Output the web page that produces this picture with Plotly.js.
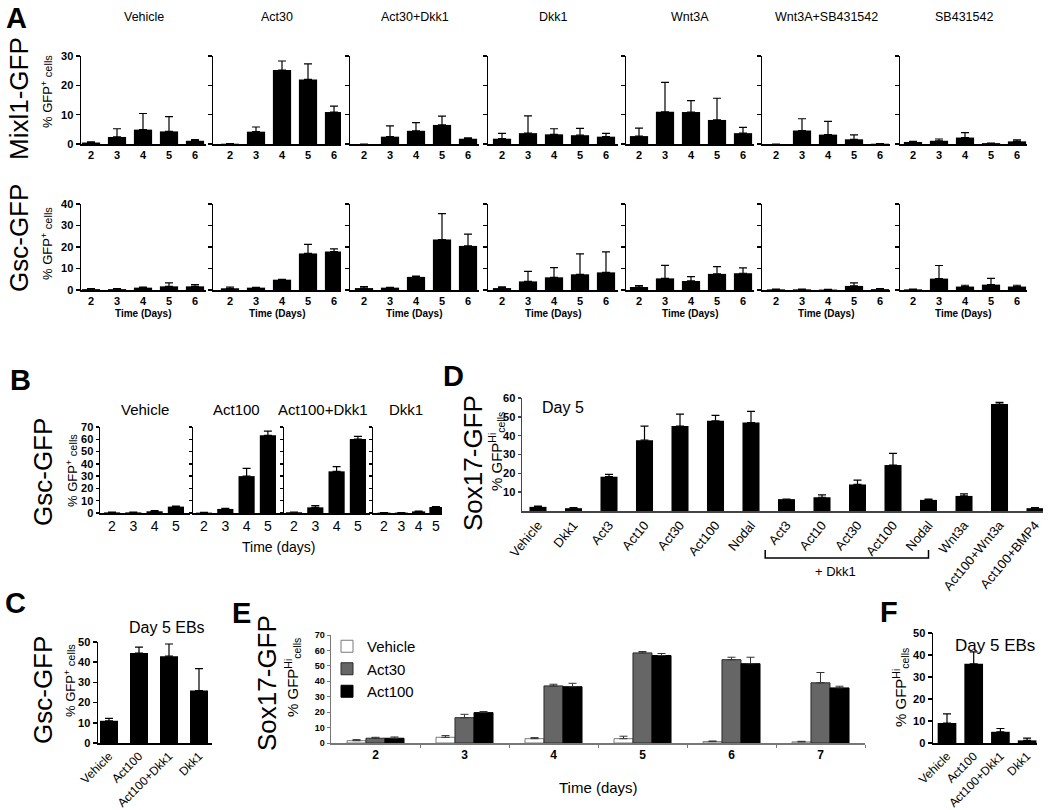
<!DOCTYPE html>
<html><head><meta charset="utf-8">
<script src="https://cdn.plot.ly/plotly-3.0.1.min.js"></script>
<style>html,body{margin:0;padding:0;background:#fff}#chart{width:1050px;height:810px}</style>
</head><body><div id="chart"></div>
<script>
// ---------------- DATA ----------------
const daysA = [2, 3, 4, 5, 6];
const treatmentsA = ['Vehicle', 'Act30', 'Act30+Dkk1', 'Dkk1', 'Wnt3A', 'Wnt3A+SB431542', 'SB431542'];
const mixl1Mean = [
  [0.5, 2.4, 4.9, 4.3, 1.1],
  [0.1, 4.2, 25.2, 22.0, 10.9],
  [0.0, 2.5, 4.5, 6.5, 1.8],
  [1.8, 3.7, 3.3, 3.0, 2.5],
  [2.7, 11.0, 10.9, 8.2, 3.7],
  [0.0, 4.6, 3.2, 1.6, 0.1],
  [0.7, 1.1, 2.2, 0.3, 0.9]
];
const mixl1Err = [
  [0.2, 2.8, 5.5, 5.0, 0.4],
  [0.05, 1.6, 3.1, 5.3, 2.0],
  [0.0, 3.7, 2.8, 3.0, 0.3],
  [1.8, 5.9, 1.9, 2.3, 1.1],
  [2.7, 10.0, 3.9, 7.4, 2.0],
  [0.0, 4.0, 4.5, 1.5, 0.0],
  [0.2, 0.6, 1.7, 0.0, 0.5]
];
const gscAMean = [
  [0.4, 0.4, 1.1, 1.7, 1.7],
  [0.8, 1.1, 4.8, 17.0, 17.9],
  [0.9, 1.1, 6.1, 23.5, 20.5],
  [0.9, 4.0, 5.9, 7.3, 8.2],
  [1.4, 5.4, 4.2, 7.5, 7.8],
  [0.3, 0.3, 0.2, 1.9, 0.4],
  [0.3, 5.3, 1.6, 2.5, 1.6]
];
const gscAErr = [
  [0.2, 0.2, 0.3, 1.6, 0.8],
  [0.6, 0.1, 0.2, 4.2, 1.2],
  [0.7, 0.1, 0.4, 12.0, 5.5],
  [0.6, 4.7, 4.5, 9.5, 9.5],
  [0.6, 6.1, 2.0, 3.4, 2.5],
  [0.1, 0.1, 0.1, 1.4, 0.2],
  [0.1, 6.1, 0.6, 2.9, 0.6]
];
const ticksA1 = [0, 10, 20, 30];
const ticksA2 = [0, 10, 20, 30, 40];

const daysB = [2, 3, 4, 5];
const treatmentsB = ['Vehicle', 'Act100', 'Act100+Dkk1', 'Dkk1'];
const gscBMean = [
  [0.5, 0.5, 1.4, 5.2],
  [0.3, 3.3, 30.0, 63.2],
  [0.6, 4.6, 33.9, 60.2],
  [0.3, 0.3, 1.3, 4.9]
];
const gscBErr = [
  [0.2, 0.2, 0.5, 0.5],
  [0.2, 0.5, 6.4, 3.5],
  [0.2, 1.4, 3.8, 2.1],
  [0.1, 0.1, 0.3, 0.4]
];
const ticksB = [0, 10, 20, 30, 40, 50, 60, 70];

const treatmentsC = ['Vehicle', 'Act100', 'Act100+Dkk1', 'Dkk1'];
const gscCMean = [11.0, 44.5, 43.0, 26.0];
const gscCErr = [1.2, 3.0, 6.0, 10.8];
const ticksC = [0, 10, 20, 30, 40, 50];

const treatmentsD = ['Vehicle', 'Dkk1', 'Act3', 'Act10', 'Act30', 'Act100', 'Nodal',
  'Act3', 'Act10', 'Act30', 'Act100', 'Nodal', 'Wnt3a', 'Act100+Wnt3a', 'Act100+BMP4'];
const sox17DMean = [2.2, 1.5, 18.2, 37.6, 45.1, 47.9, 47.0, 6.3, 7.3, 14.1, 24.4, 5.9, 8.0, 56.8, 1.5];
const sox17DErr = [0.4, 0.3, 1.2, 7.5, 6.3, 2.9, 5.9, 0.0, 1.3, 2.3, 6.2, 0.4, 1.1, 0.9, 0.3];
const ticksD = [10, 20, 30, 40, 50, 60];

const daysE = [2, 3, 4, 5, 6, 7];
const seriesE = ['Vehicle', 'Act30', 'Act100'];
const sox17EVehicle = [1.5, 3.7, 2.8, 2.8, 0.9, 0.7];
const sox17EVehicleErr = [0.7, 1.1, 0.7, 1.6, 0.4, 0.4];
const sox17EAct30 = [3.1, 16.4, 37.0, 58.4, 54.0, 39.0];
const sox17EAct30Err = [0.6, 2.2, 1.1, 0.9, 1.6, 6.7];
const sox17EAct100 = [3.1, 19.7, 36.5, 56.7, 51.4, 35.7];
const sox17EAct100Err = [0.8, 0.7, 2.2, 1.3, 4.2, 1.1];
const ticksE = [0, 10, 20, 30, 40, 50, 60, 70];

const treatmentsF = ['Vehicle', 'Act100', 'Act100+Dkk1', 'Dkk1'];
const sox17FMean = [9.1, 36.0, 5.1, 1.2];
const sox17FErr = [4.1, 5.4, 1.5, 1.0];
const ticksF = [0, 10, 20, 30, 40, 50];

// ---------------- LAYOUT HELPERS ----------------
const W = 1050, H = 810;
const FONT = '"Liberation Sans", Arial, Helvetica, sans-serif';
const layout = {
  width: W, height: H,
  margin: {l: 0, r: 0, t: 0, b: 0, pad: 0},
  paper_bgcolor: '#fff', plot_bgcolor: 'rgba(0,0,0,0)',
  font: {family: FONT, color: '#000', size: 12},
  barmode: 'overlay', showlegend: true,
  annotations: [], shapes: [],
  legend: {x: 327 / W, y: 1 - 630 / H, xanchor: 'left', yanchor: 'top',
    font: {family: FONT, size: 15, color: '#000'}, bgcolor: 'rgba(0,0,0,0)', traceorder: 'normal'}
};
const data = [];
let n = 0;
function panel(b, xa, ya) {
  n++;
  const s = n === 1 ? '' : String(n);
  layout['xaxis' + s] = Object.assign({domain: [b.x0 / W, b.x1 / W], anchor: 'y' + s, showgrid: false, zeroline: false,
    showline: true, linecolor: '#000', linewidth: 1.5, ticks: '', fixedrange: true, automargin: false}, xa);
  layout['yaxis' + s] = Object.assign({domain: [1 - b.yb / H, 1 - b.yt / H], anchor: 'x' + s, showgrid: false, zeroline: false,
    showline: true, linecolor: '#000', linewidth: 1.5, ticks: 'outside', ticklen: 4, tickwidth: 1.5, tickcolor: '#000',
    fixedrange: true, automargin: false}, ya);
  return {x: 'x' + s, y: 'y' + s};
}
function pxRange(left, right, c0, step, first) {
  return [first - (c0 - left) / step, first + (right - c0) / step];
}
function eb(arr, opt) {
  return Object.assign({type: 'data', array: arr, arrayminus: arr.map(() => 0), symmetric: false,
    color: '#000', thickness: 1.2, width: 4, visible: true}, opt || {});
}
function ann(text, x, y, opt) {
  layout.annotations.push(Object.assign({text: text, x: x / W, y: 1 - y / H, xref: 'paper', yref: 'paper',
    showarrow: false, xanchor: 'center', yanchor: 'middle', font: {family: FONT, size: 14, color: '#000'}}, opt || {}));
}
const bold = (size) => ({family: FONT, size: size, color: '#000', weight: 'bold'});
const reg = (size) => ({family: FONT, size: size, color: '#000'});
const LETTER = {family: FONT, size: 29, color: '#000', weight: 'bold'};
const BIG = reg(26);
const GFPPLUS = '% GFP<sup>+</sup> <span style="font-size:11px">cells</span>';
const GFPHI = '% GFP<sup>Hi</sup><sub>cells</sub>';

// ---------------- PANEL A ----------------
ann('A', 16, 18, {font: LETTER});
const aBoxes = [[81, 91, 206], [213, 230, 341], [350, 364, 479], [488, 502, 618], [626, 639, 754], [762, 776, 890], [900, 913, 1027]];
const aRows = [
  {mean: mixl1Mean, err: mixl1Err, yt: 56, yb: 144, ticks: ticksA1, showX: false},
  {mean: gscAMean, err: gscAErr, yt: 204, yb: 290, ticks: ticksA2, showX: true}
];
aRows.forEach((row, r) => {
  aBoxes.forEach((bx, i) => {
    const ax = panel({x0: bx[0], x1: bx[2], yt: row.yt, yb: row.yb},
      {range: pxRange(bx[0], bx[2], bx[1], 26, daysA[0]), tickvals: daysA, tickfont: bold(11)},
      {range: [0, row.ticks[row.ticks.length - 1]], tickvals: row.ticks, showticklabels: i === 0, tickfont: bold(11)});
    data.push({type: 'bar', x: daysA, y: row.mean[i], xaxis: ax.x, yaxis: ax.y, width: 0.7,
      marker: {color: '#000', line: {width: 0}}, error_y: eb(row.err[i]), showlegend: false, hoverinfo: 'skip'});
    if (r === 0) ann(treatmentsA[i], (bx[0] + bx[2]) / 2, 17, {font: reg(12.5)});
    if (row.showX) ann('Time (Days)', (bx[0] + bx[2]) / 2, 313, {font: bold(10)});
  });
});
ann('Mixl1-GFP', 19, 99, {textangle: -90, font: BIG});
ann('Gsc-GFP', 19, 238, {textangle: -90, font: BIG});
ann(GFPPLUS, 47, 92, {textangle: -90, font: reg(13)});
ann(GFPPLUS, 47, 244, {textangle: -90, font: reg(13)});

// ---------------- PANEL B ----------------
ann('B', 20, 380, {font: LETTER});
const bBoxes = [[100, 112, 190, 21.3], [193, 204, 283, 21.3], [284, 294, 370, 21.3], [373, 384, 442, 17.3]];
const bTitleX = [145, 237, 323, 406];
bBoxes.forEach((bx, i) => {
  const ax = panel({x0: bx[0], x1: bx[2], yt: 427, yb: 513},
    {range: pxRange(bx[0], bx[2], bx[1], bx[3], daysB[0]), tickvals: daysB, tickfont: reg(14)},
    {range: [0, 70], tickvals: ticksB, showticklabels: i === 0, tickfont: bold(11), ticklen: 3});
  data.push({type: 'bar', x: daysB, y: gscBMean[i], xaxis: ax.x, yaxis: ax.y, width: 0.76,
    marker: {color: '#000', line: {width: 0}}, error_y: eb(gscBErr[i]), showlegend: false, hoverinfo: 'skip'});
  ann(treatmentsB[i], bTitleX[i], 409, {font: reg(15)});
});
ann('Time (days)', 278, 547, {font: reg(14)});
ann('Gsc-GFP', 43, 472, {textangle: -90, font: BIG});
ann(GFPPLUS, 72, 471, {textangle: -90, font: reg(13)});

// ---------------- PANEL C ----------------
ann('C', 15, 603, {font: LETTER});
const idxC = treatmentsC.map((_, i) => i);
{
  const ax = panel({x0: 98, x1: 212, yt: 642, yb: 743},
    {range: pxRange(98, 212, 109, 30, 0), tickvals: idxC, ticktext: treatmentsC, tickangle: -45, tickfont: reg(12)},
    {range: [0, 50], tickvals: ticksC, tickfont: bold(11)});
  data.push({type: 'bar', x: idxC, y: gscCMean, xaxis: ax.x, yaxis: ax.y, width: 0.6,
    marker: {color: '#000', line: {width: 0}}, error_y: eb(gscCErr), showlegend: false, hoverinfo: 'skip'});
}
ann('Day 5 EBs', 167, 627, {font: reg(16)});
ann('Gsc-GFP', 43, 690, {textangle: -90, font: BIG});
ann(GFPPLUS, 70, 681, {textangle: -90, font: reg(13)});

// ---------------- PANEL D ----------------
ann('D', 453, 376, {font: LETTER});
const idxD = treatmentsD.map((_, i) => i);
let axD;
{
  axD = panel({x0: 522, x1: 1043, yt: 398, yb: 511},
    {range: pxRange(522, 1043, 538, 35.5, 0), tickvals: idxD, ticktext: treatmentsD, tickangle: -50,
      tickfont: reg(13), linecolor: '#444'},
    {range: [0, 60], tickvals: ticksD, tickfont: bold(11), linecolor: '#444', tickcolor: '#444', ticklen: 3});
  data.push({type: 'bar', x: idxD, y: sox17DMean, xaxis: axD.x, yaxis: axD.y, width: 0.48,
    marker: {color: '#000', line: {width: 0}}, error_y: eb(sox17DErr), showlegend: false, hoverinfo: 'skip'});
}
layout.shapes.push({type: 'path', xref: axD.x, yref: 'paper',
  path: `M 6.4 ${1 - 550 / H} L 6.4 ${1 - 558 / H} L 11 ${1 - 558 / H} L 11 ${1 - 550 / H}`,
  line: {color: '#000', width: 1.5}});
ann('+ Dkk1', 835, 571, {font: reg(13)});
ann('Day 5', 563, 407, {font: reg(16)});
ann('Sox17-GFP', 473, 463, {textangle: -90, font: BIG});
ann(GFPHI, 496, 452, {textangle: -90, font: reg(15)});

// ---------------- PANEL E ----------------
ann('E', 241, 613, {font: LETTER});
{
  const ax = panel({x0: 331, x1: 865, yt: 635, yb: 743},
    {range: [daysE[0] - 0.5, daysE[daysE.length - 1] + 0.5], tickvals: daysE, tickfont: bold(12), linecolor: '#777',
      minor: {tickvals: daysE.map(d => d + 0.5), ticks: 'outside', ticklen: 3, tickcolor: '#777', tickwidth: 1}},
    {range: [0, 70], tickvals: ticksE, tickfont: bold(9), linecolor: '#777', tickcolor: '#777', ticklen: 3, tickwidth: 1});
  const eSeries = [
    {name: seriesE[0], y: sox17EVehicle, e: sox17EVehicleErr, fill: '#ffffff', line: '#7a7a7a', off: -0.32},
    {name: seriesE[1], y: sox17EAct30, e: sox17EAct30Err, fill: '#666666', line: '#2a2a2a', off: -0.107},
    {name: seriesE[2], y: sox17EAct100, e: sox17EAct100Err, fill: '#000000', line: '#000000', off: 0.107}
  ];
  eSeries.forEach(s => {
    data.push({type: 'bar', name: s.name, x: daysE, y: s.y, xaxis: ax.x, yaxis: ax.y, width: 0.2135, offset: s.off,
      marker: {color: s.fill, line: {color: s.line, width: 1}}, error_y: eb(s.e, {color: '#333', thickness: 1, width: 4}),
      showlegend: true, hoverinfo: 'skip'});
  });
}
ann('Time (days)', 598, 787, {font: reg(15)});
ann('Sox17-GFP', 267, 683, {textangle: -90, font: BIG});
ann(GFPHI, 292, 678, {textangle: -90, font: reg(15)});

// ---------------- PANEL F ----------------
ann('F', 889, 612, {font: LETTER});
const idxF = treatmentsF.map((_, i) => i);
{
  const ax = panel({x0: 933, x1: 1037, yt: 633, yb: 743},
    {range: pxRange(933, 1037, 947, 26.7, 0), tickvals: idxF, ticktext: treatmentsF, tickangle: -45, tickfont: reg(12)},
    {range: [0, 50], tickvals: ticksF, tickfont: bold(11)});
  data.push({type: 'bar', x: idxF, y: sox17FMean, xaxis: ax.x, yaxis: ax.y, width: 0.7,
    marker: {color: '#000', line: {width: 0}}, error_y: eb(sox17FErr), showlegend: false, hoverinfo: 'skip'});
}
ann('Day 5 EBs', 995, 645, {font: reg(17)});
ann(GFPHI, 900, 688, {textangle: -90, font: reg(15)});

Plotly.newPlot('chart', data, layout, {staticPlot: true, displayModeBar: false});
</script>
</body></html>
